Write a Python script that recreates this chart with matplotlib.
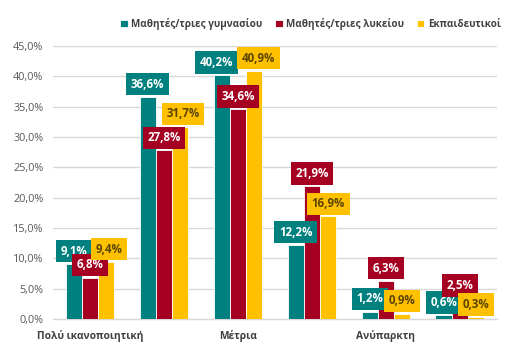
import numpy as np
import matplotlib
matplotlib.use("Agg")
import matplotlib.pyplot as plt

plt.rcParams['font.family'] = ['Open Sans', 'DejaVu Sans']

# Data (percent)
categories = ["Πολύ ικανοποιητική", "Ικανοποιητική", "Μέτρια",
              "Ελλιπής", "Ανύπαρκτη", "Δεν γνωρίζω"]
series_names = ["Μαθητές/τριες γυμνασίου", "Μαθητές/τριες λυκείου", "Εκπαιδευτικοί"]
gymnasio = [9.1, 36.6, 40.2, 12.2, 1.2, 0.6]
lykeio = [6.8, 27.8, 34.6, 21.9, 6.3, 2.5]
ekpaideutikoi = [9.4, 31.7, 40.9, 16.9, 0.9, 0.3]

colors = ["#00807F", "#A50021", "#FFC000"]
text_colors = ["white", "white", "#5A4600"]

# label nudges (points) so boxes don't collide, keyed by (series, category)
nudge = {(0, 2): (-3.5, 0), (2, 2): (3, 0), (2, 1): (2, 0), (2, 0): (2, 0),
         (1, 5): (0, 4)}

fig = plt.figure(figsize=(5.12, 3.6), dpi=100)
ax = fig.add_axes([0.1035, 0.114, 0.867, 0.758])

x = np.arange(len(categories))
w = 0.22
values = [gymnasio, lykeio, ekpaideutikoi]

for i, vals in enumerate(values):
    pos = x + (i - 1) * w
    ax.bar(pos, vals, w, color=colors[i], edgecolor="white", linewidth=0.6,
           label=series_names[i], zorder=3)
    for j, v in enumerate(vals):
        dx, dy = nudge.get((i, j), (0, 0))
        ax.annotate(f"{v:.1f}%".replace(".", ","), (pos[j], v),
                    xytext=(dx, 4.5 + dy), textcoords="offset points",
                    ha="center", va="bottom", fontsize=8.3, fontweight="bold",
                    color=text_colors[i], zorder=5,
                    bbox=dict(boxstyle="square,pad=0.4", fc=colors[i], ec="none"))

ax.set_ylim(0, 45)
ax.set_xlim(-0.5, len(categories) - 0.5)
ax.set_yticks(np.arange(0, 46, 5))
ax.set_yticklabels([f"{t:.1f}%".replace(".", ",") for t in np.arange(0, 46, 5)])
ax.set_xticks(x)
ax.set_xticklabels([c if k % 2 == 0 else "" for k, c in enumerate(categories)],
                   fontweight="bold", color="#404040", fontsize=7.4)
ax.tick_params(axis="y", length=0, labelsize=7.8, labelcolor="#595959", pad=7)
ax.tick_params(axis="x", length=0, pad=8)
ax.grid(axis="y", color="#D9D9D9", linewidth=1, zorder=0)
for s in ["top", "right", "left"]:
    ax.spines[s].set_visible(False)
ax.spines["bottom"].set_color("#D9D9D9")
ax.spines["bottom"].set_linewidth(1)

leg = fig.legend(loc="upper right", bbox_to_anchor=(0.995, 0.975), ncol=3, frameon=False,
                 handlelength=0.75, handleheight=0.75, handletextpad=0.35,
                 columnspacing=1.3, prop={"size": 7.1, "weight": "bold"})
for t in leg.get_texts():
    t.set_color("#404040")

fig.savefig("out.png", dpi=100)
